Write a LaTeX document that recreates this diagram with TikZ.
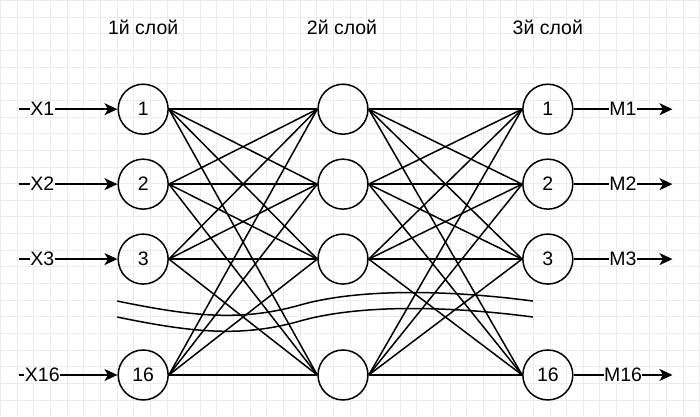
\documentclass[tikz,border=0pt]{standalone}
\usepackage{fontspec}
\setmainfont{Liberation Sans}
\usetikzlibrary{arrows.meta}

\begin{document}
\begin{tikzpicture}[x=1pt,y=-1pt,
  neuron/.style={draw, circle, minimum size=50pt, inner sep=0pt,
    line width=1.5pt, font=\fontsize{19.5}{22}\selectfont},
  wire/.style={line width=1.5pt},
  feed/.style={wire, -{Stealth[length=13pt,width=12pt,inset=3.5pt]}},
  tag/.style={fill=white, inner sep=0.5pt, font=\fontsize{19.5}{22}\selectfont},
  title/.style={font=\fontsize{19.5}{22}\selectfont}]
  % background and grid
  \fill[white] (0,0) rectangle (700,416);
  \draw[black!8, line width=0.6pt, step=16.6667pt] (0,0) grid (700,416);
  \useasboundingbox (0,0) rectangle (700,416);

  % layer titles
  \node[title] (title1) at (143,27) {1й слой};
  \node[title] (title2) at (342,27) {2й слой};
  \node[title] (title3) at (548,27) {3й слой};

  % three columns of neurons
  \foreach \i/\y/\t in {1/109/1,2/184/2,3/259/3,4/375/16}{
    \node[neuron] (a\i) at (143,\y) {\t};
    \node[neuron] (b\i) at (343,\y) {};
    \node[neuron] (c\i) at (548,\y) {\t};
  }

  % all-to-all links
  \begin{scope}[wire]
    \foreach \i in {1,...,4}{
      \foreach \j in {1,...,4}{
        \draw (a\i.east) -- (b\j.west);
        \draw (b\i.east) -- (c\j.west);
      }
    }
  \end{scope}

  % inputs and outputs
  \foreach \i/\x/\m in {1/X1/M1,2/X2/M2,3/X3/M3,4/X16/M16}{
    \path (a\i.west) ++(-99,0) coordinate (in\i);
    \path (c\i.east) ++(99,0) coordinate (out\i);
    \draw[feed] (in\i) -- node[tag, pos=0.24] {\x} (a\i.west);
    \draw[feed] (c\i.east) -- node[tag] {\m} (out\i);
  }

  % break marks
  \foreach \d in {0,16}{
    \draw[wire] (117,{301+\d}) .. controls (190,{316+\d}) and (240,{322+\d})
      .. (300,{305+\d}) .. controls (360,{288+\d}) and (450,{290+\d})
      .. (533,{301+\d});
  }
\end{tikzpicture}
\end{document}
